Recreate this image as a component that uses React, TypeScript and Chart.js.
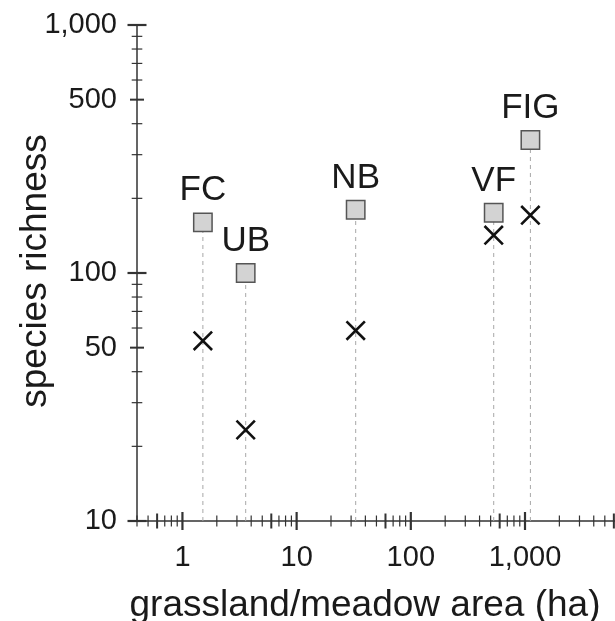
import React, { useEffect, useRef } from 'react';
import { Chart, registerables } from 'chart.js';

Chart.register(...registerables);

// ---- data ----
const SITES = ['FC', 'UB', 'NB', 'VF', 'FIG'];
const AREA_HA = [1.51, 3.58, 32.9, 532, 1115];
const SQUARE_RICHNESS = [160, 100, 180, 175, 344];
const CROSS_RICHNESS = [53.3, 23.3, 58.6, 142, 171];
const X_TICKS = [1, 10, 100, 1000];
const Y_TICKS = [10, 50, 100, 500, 1000];
const X_MIN = 0.4;
const X_MAX = 6140;
const Y_MIN = 10;
const Y_MAX = 1000;
const X_TITLE = 'grassland/meadow area (ha)';
const Y_TITLE = 'species richness';

const FONT = '"Liberation Sans", Arial, Helvetica, sans-serif';
const TEXT = '#1a1a1a';
const AXIS = '#333333';

const fmt = (v: number) => Number(v).toLocaleString('en-US');

const axesPlugin = {
  id: 'customAxes',
  beforeDatasetsDraw(chart: any) {
    const { ctx, chartArea, scales } = chart;
    const xs = scales.x;
    const ys = scales.y;
    const left = chartArea.left;
    const bottom = chartArea.bottom;
    ctx.save();
    ctx.strokeStyle = AXIS;
    ctx.lineCap = 'butt';
    ctx.lineWidth = 1.5;
    ctx.beginPath();
    ctx.moveTo(left, ys.getPixelForValue(Y_MAX));
    ctx.lineTo(left, bottom);
    ctx.moveTo(left, bottom);
    ctx.lineTo(chartArea.right, bottom);
    ctx.stroke();

    // x tick marks (crossing the axis)
    for (let e = -1; e <= 4; e++) {
      for (let m = 1; m <= 9; m++) {
        const v = m * Math.pow(10, e);
        if (v < X_MIN || v > X_MAX) continue;
        const px = xs.getPixelForValue(v);
        const major = m === 1;
        const mid = m === 6;
        const half = major ? 9 : mid ? 7.5 : 5.5;
        ctx.lineWidth = major ? 2.2 : mid ? 2 : 1.2;
        ctx.beginPath();
        ctx.moveTo(px, bottom - half);
        ctx.lineTo(px, bottom + half);
        ctx.stroke();
      }
    }
    // y tick marks
    for (let e = 1; e <= 3; e++) {
      for (let m = 1; m <= 9; m++) {
        const v = m * Math.pow(10, e);
        if (v < Y_MIN || v > Y_MAX) continue;
        const py = ys.getPixelForValue(v);
        const major = m === 1;
        const mid = m === 5;
        const half = major ? 9.5 : mid ? 7 : 5.3;
        ctx.lineWidth = major ? 2.2 : mid ? 2 : 1.2;
        ctx.beginPath();
        ctx.moveTo(left - half, py);
        ctx.lineTo(left + half, py);
        ctx.stroke();
      }
    }
    ctx.restore();
  },
  afterDatasetsDraw(chart: any) {
    const { ctx } = chart;
    const meta = chart.getDatasetMeta(1);
    ctx.save();
    ctx.fillStyle = TEXT;
    ctx.font = `35px ${FONT}`;
    ctx.textAlign = 'center';
    ctx.textBaseline = 'alphabetic';
    meta.data.forEach((pt: any, i: number) => {
      ctx.fillText(SITES[i], pt.x, pt.y - 22);
    });
    // axis titles
    ctx.font = `37px ${FONT}`;
    ctx.fillText(X_TITLE, 365, 616);
    ctx.translate(45.5, 271);
    ctx.rotate(-Math.PI / 2);
    ctx.fillText(Y_TITLE, 0, 0);
    ctx.restore();
  },
};

export default function App() {
  const ref = useRef<HTMLCanvasElement | null>(null);

  useEffect(() => {
    document.documentElement.style.overflow = 'hidden';
    document.body.style.overflow = 'hidden';
    document.body.style.margin = '0';
    if (!ref.current) return;
    const lineSets = SITES.map((s, i) => ({
      label: s + ' line',
      data: [
        { x: AREA_HA[i], y: Y_MIN },
        { x: AREA_HA[i], y: SQUARE_RICHNESS[i] },
      ],
      showLine: true,
      borderColor: '#a8a8a8',
      borderWidth: 1,
      borderDash: [4, 4],
      pointRadius: 0,
      order: 2,
    }));
    const chart = new Chart(ref.current, {
      type: 'scatter',
      data: {
        datasets: [
          {
            label: 'cross',
            data: AREA_HA.map((x, i) => ({ x, y: CROSS_RICHNESS[i] })),
            pointStyle: 'crossRot',
            pointRadius: 13,
            borderColor: '#111111',
            backgroundColor: '#111111',
            borderWidth: 2.6,
            order: 0,
          },
          {
            label: 'square',
            data: AREA_HA.map((x, i) => ({ x, y: SQUARE_RICHNESS[i] })),
            pointStyle: 'rect',
            pointRadius: 13,
            backgroundColor: '#d3d3d3',
            borderColor: '#555555',
            borderWidth: 1.5,
            order: 1,
          },
          ...lineSets,
        ] as any,
      },
      options: {
        animation: false,
        responsive: false,
        devicePixelRatio: 1,
        layout: { autoPadding: false, padding: { top: 25, left: 0, right: 0, bottom: 0 } },
        plugins: {
          legend: { display: false },
          tooltip: { enabled: false },
          title: { display: false },
        },
        scales: {
          x: {
            type: 'logarithmic',
            position: 'bottom',
            min: X_MIN,
            max: X_MAX,
            grid: { display: false, drawTicks: false },
            border: { display: false },
            ticks: {
              color: TEXT,
              font: { family: FONT, size: 29, lineHeight: 2.58 },
              padding: 0,
              maxRotation: 0,
              autoSkip: false,
              callback: (v: any) => fmt(v),
            },
            afterBuildTicks: (s: any) => {
              s.ticks = X_TICKS.map((v) => ({ value: v }));
            },
            afterFit: (s: any) => {
              s.height = 100;
              s.paddingLeft = 0;
              s.paddingRight = 0;
            },
          },
          y: {
            type: 'logarithmic',
            position: 'left',
            min: Y_MIN,
            max: Y_MAX,
            grid: { display: false, drawTicks: false },
            border: { display: false },
            ticks: {
              color: TEXT,
              font: { family: FONT, size: 29 },
              padding: 20,
              autoSkip: false,
              callback: (v: any) => fmt(v),
            },
            afterBuildTicks: (s: any) => {
              s.ticks = Y_TICKS.map((v) => ({ value: v }));
            },
            afterFit: (s: any) => {
              s.width = 137;
              s.paddingTop = 0;
              s.paddingBottom = 0;
            },
          },
        },
      } as any,
      plugins: [axesPlugin],
    });
    return () => chart.destroy();
  }, []);

  return (
    <div style={{ position: 'fixed', left: 0, top: 0, width: 615, height: 621, overflow: 'hidden', background: '#fff' }}>
      <canvas ref={ref} width={615} height={621} style={{ display: 'block', width: 615, height: 621 }} />
    </div>
  );
}
